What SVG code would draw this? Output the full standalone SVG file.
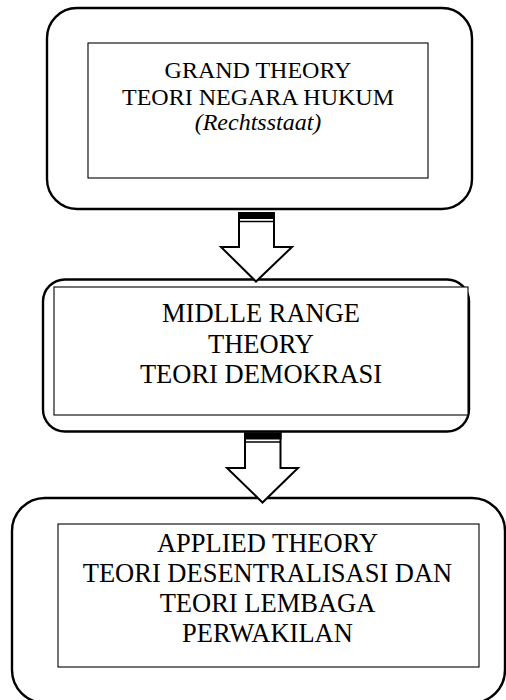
<svg xmlns="http://www.w3.org/2000/svg" width="506" height="700" viewBox="0 0 506 700">
<style>
.outer{fill:none;stroke:#000;stroke-width:2.4}
.inner{fill:#fff;stroke:#000;stroke-width:1.1}
.arrow{fill:#fff;stroke:#000;stroke-width:2;stroke-linejoin:miter}
.band{fill:#000}
.bar{stroke:#000;stroke-width:1.5}
.lbl{fill:#000;text-anchor:middle}
.t1{font-size:24px}
.t2{font-size:26.5px}
.t3{font-size:26.5px}
</style>
<rect width="506" height="700" fill="#fff"/>
<g id="node-grand" font-family="Liberation Serif, Times New Roman, DejaVu Serif, serif">
<rect class="outer" x="47" y="8" width="425" height="201" rx="30" ry="30"/>
<rect class="inner" x="88" y="43" width="340" height="135"/>
<text class="lbl t1" x="258" y="78">GRAND THEORY</text>
<text class="lbl t1" x="258" y="105">TEORI NEGARA HUKUM</text>
<text class="lbl t1" x="258" y="130" font-style="italic">(Rechtsstaat)</text>
</g>
<g id="node-middle" font-family="Liberation Serif, Times New Roman, DejaVu Serif, serif">
<rect class="outer" x="43" y="279.5" width="426" height="152" rx="22" ry="22"/>
<rect class="inner" x="54" y="287" width="414" height="128"/>
<text class="lbl t2" x="261" y="322">MIDLLE RANGE</text>
<text class="lbl t2" x="261" y="353">THEORY</text>
<text class="lbl t2" x="261" y="383">TEORI DEMOKRASI</text>
</g>
<g id="node-applied" font-family="Liberation Serif, Times New Roman, DejaVu Serif, serif">
<rect class="outer" x="12" y="498" width="493" height="205" rx="33" ry="33"/>
<rect class="inner" x="58" y="524" width="421" height="143"/>
<text class="lbl t3" x="267.5" y="552">APPLIED THEORY</text>
<text class="lbl t3" x="267.5" y="582">TEORI DESENTRALISASI DAN</text>
<text class="lbl t3" x="267.5" y="612">TEORI LEMBAGA</text>
<text class="lbl t3" x="267.5" y="642">PERWAKILAN</text>
</g>
<g id="connectors">
<g id="arrow-1">
<polygon class="arrow" points="239,213 274,213 274,247 292,247 256,281.5 221,247 239,247"/>
<rect class="band" x="238" y="212" width="37" height="7"/>
<line class="bar" x1="239" y1="221.5" x2="274" y2="221.5"/>
</g>
<g id="arrow-2">
<polygon class="arrow" points="245,433.5 280.5,433.5 280.5,468 298,468 262.5,502.5 227,468 245,468"/>
<rect class="band" x="244" y="432.5" width="37.5" height="7"/>
<line class="bar" x1="245" y1="442" x2="280.5" y2="442"/>
</g>
</g>
</svg>
